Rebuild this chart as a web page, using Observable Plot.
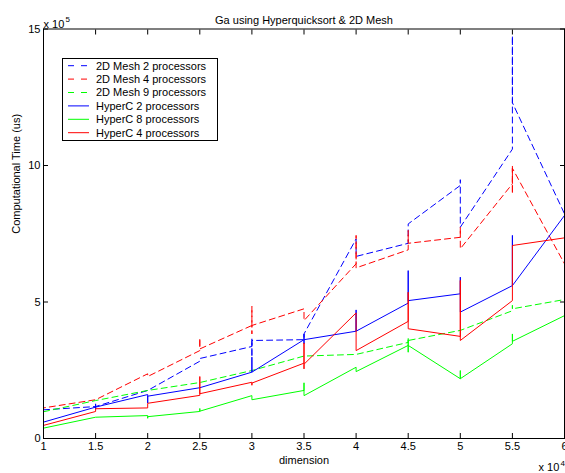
<!DOCTYPE html>
<html><head><meta charset="utf-8">
<script src="https://cdn.jsdelivr.net/npm/d3@7"></script>
<script src="https://cdn.jsdelivr.net/npm/@observablehq/plot@0.6"></script>
<style>
body{margin:0;background:#fff;}
#wrap{position:relative;width:565px;height:473px;font-family:"Liberation Sans",Arial,sans-serif;}
#legend{position:absolute;left:0;top:0;pointer-events:none;}
</style></head><body><div id="wrap"></div>
<script>
const xTicks = [1,1.5,2,2.5,3,3.5,4,4.5,5,5.5,6];
const yTicks = [0,5,10,15];
const seriesNames = ["2D Mesh 2 processors","2D Mesh 4 processors","2D Mesh 9 processors","HyperC 2 processors","HyperC 8 processors","HyperC 4 processors"];
const seriesColors = ["#0000ff","#ff0000","#00ff00","#0000ff","#00ff00","#ff0000"];
const seriesDashed = [true,true,true,false,false,false];

// dimension (x 10^4) and time (x 10^5 us); repeated x = several measurements
const mesh2X = [1,1.5,2,2.5,2.5,3,3,3,3,3.5,3.5,4,4,4.5,4.5,5,5,5,5.5,5.5,5.5,6];
const mesh2Y = [1.05,1.17,1.76,2.83,2.93,3.37,3.65,2.98,3.59,3.62,3.83,7.31,6.67,7.15,7.86,9.27,9.48,7.74,10.6,14.75,12.3,8.23];
const mesh4X = [1,1,1.5,2,2,2.5,2.5,2.5,3,3,3,3,3.5,3.5,4,4,4,4.5,4.5,4.5,5,5,5,5.5,5.5,5.5,5.5,6];
const mesh4Y = [1.27,1.12,1.42,2.37,2.27,3.22,3.68,3.28,4.14,4.84,3.83,4.14,4.75,4.32,6.4,7.44,6.25,6.91,7.62,7.15,7.37,7.74,6.95,9.33,10.0,8.96,9.9,6.4];
const mesh9X = [1,1.5,2,2.5,3,3.5,4,4.5,4.5,4.5,5,5.5,5.5,5.5,6];
const mesh9Y = [0.98,1.39,1.76,2.05,2.49,3.02,3.08,3.52,3.68,3.59,3.96,4.68,4.88,4.75,5.09];
const hyper2X = [1,1.5,1.5,1.5,1.5,2,2,2,2.5,3,3,3,3.5,3.5,3.5,3.5,4,4,4,4.5,4.5,4.5,5,5,5,5.5,5.5,5.5,6,6];
const hyper2Y = [0.6,1.15,1.27,1.09,1.15,1.61,1.3,1.55,1.86,2.43,2.98,2.43,3.62,3.83,3.47,3.62,3.93,4.71,3.93,4.96,6.15,5.05,5.3,5.91,4.63,5.6,7.44,5.6,8.17,6.9];
const hyper8X = [1,1.5,2,2,2,2.5,2.5,2.5,3,3,3.5,3.5,3.5,4,4,4.5,4.5,4.5,4.5,5,5,5,5.5,5.5,5.5,6,6];
const hyper8Y = [0.38,0.78,0.84,0.74,0.8,0.99,1.1,1.0,1.57,1.42,1.76,2.04,1.57,2.61,2.45,3.41,3.62,3.16,3.41,2.19,2.49,2.19,3.47,3.83,3.56,4.5,4.9];
const hyper4X = [1,1.5,1.5,2,2,2.5,2.5,2.5,3,3,3,3.5,3.5,3.5,3.5,4,4,4.5,4.5,4.5,5,5,5,5.5,5.5,6,6,6];
const hyper4Y = [0.48,0.99,1.09,1.12,1.29,1.58,2.27,1.64,2.06,1.95,2.03,2.76,3.5,2.55,2.72,4.6,3.22,4.29,5.36,4.02,3.74,5.79,3.59,5.05,7.07,7.35,9.45,7.0];

const seriesXs = [mesh2X, mesh4X, mesh9X, hyper2X, hyper8X, hyper4X];
const seriesYs = [mesh2Y, mesh4Y, mesh9Y, hyper2Y, hyper8Y, hyper4Y];

const lineMarks = seriesNames.map((name, i) => {
  const pts = seriesXs[i].map((x, j) => ({x, y: seriesYs[i][j]}));
  return Plot.line(pts, {x: "x", y: "y", stroke: seriesColors[i], strokeWidth: 1,
    strokeDasharray: seriesDashed[i] ? "6,4" : null});
});

const font = "Liberation Sans, Arial, sans-serif";
const chart = Plot.plot({
  width: 565, height: 473,
  marginLeft: 43, marginRight: 1, marginTop: 28.5, marginBottom: 35,
  style: {fontFamily: font, fontSize: "11px", background: "white", color: "black"},
  x: {domain: [1, 6]},
  y: {domain: [0, 15]},
  marks: [
    ...lineMarks,
    Plot.frame({stroke: "black", strokeWidth: 1}),
    Plot.axisX({ticks: xTicks, tickSize: 0, tickPadding: 4, tickFormat: d => String(d), label: null, fontSize: 11}),
    Plot.axisY({ticks: yTicks, tickSize: 0, tickPadding: 3, tickFormat: d => String(d), label: null, fontSize: 11}),
    Plot.axisX({ticks: xTicks, tickSize: -5, tickFormat: () => "", label: null}),
    Plot.axisX({anchor: "top", ticks: xTicks, tickSize: -5, tickFormat: () => "", label: null}),
    Plot.axisY({ticks: yTicks, tickSize: -5, tickFormat: () => "", label: null}),
    Plot.axisY({anchor: "right", ticks: yTicks, tickSize: -5, tickFormat: () => "", label: null}),
    Plot.text(["Ga using Hyperquicksort & 2D Mesh"], {frameAnchor: "top", dy: -13, fontSize: 11}),
    Plot.text(["dimension"], {frameAnchor: "bottom", dy: 25, fontSize: 11}),
    Plot.text(["Computational Time (us)"], {frameAnchor: "left", dx: -27, rotate: -90, fontSize: 11}),
    Plot.text(["x 10"], {frameAnchor: "top-left", textAnchor: "start", dx: 0, dy: -9, fontSize: 11}),
    Plot.text(["5"], {frameAnchor: "top-left", textAnchor: "start", dx: 22, dy: -13, fontSize: 8}),
    Plot.text(["x 10"], {frameAnchor: "bottom-right", textAnchor: "start", dx: -26, dy: 32, fontSize: 11}),
    Plot.text(["4"], {frameAnchor: "bottom-right", textAnchor: "start", dx: -4, dy: 27, fontSize: 8})
  ]
});
const wrap = document.getElementById("wrap");
wrap.appendChild(chart);

// legend overlay
const leg = d3.select(wrap).append("svg").attr("id", "legend").attr("width", 565).attr("height", 473)
  .style("font-family", font).style("font-size", "11px");
leg.append("rect").attr("x", 62.5).attr("y", 58.5).attr("width", 155).attr("height", 82)
  .attr("fill", "white").attr("stroke", "black").attr("stroke-width", 1);
seriesNames.forEach((name, i) => {
  const cy = 65.7 + i * 13.4;
  leg.append("line").attr("x1", 68).attr("x2", 89).attr("y1", cy).attr("y2", cy)
    .attr("stroke", seriesColors[i]).attr("stroke-width", 1)
    .attr("stroke-dasharray", seriesDashed[i] ? "6,7" : null);
  leg.append("text").attr("x", 96).attr("y", cy).attr("dy", "0.35em").attr("fill", "black").text(name);
});
</script></body></html>
